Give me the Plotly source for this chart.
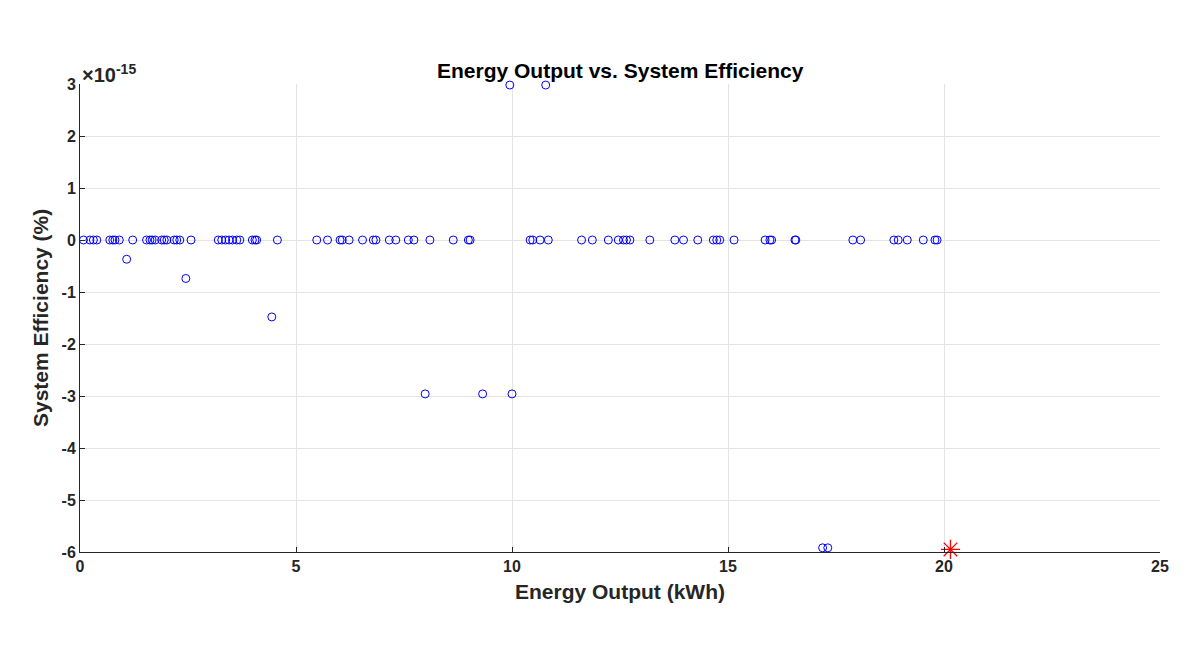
import plotly.graph_objects as go

# Energy output (kWh) and efficiency values (in units of 1e-15 %)
zero_x = [0.08, 0.23, 0.31, 0.39, 0.69, 0.76, 0.81, 0.91, 1.22, 1.54, 1.62, 1.67, 1.74,
          1.89, 1.95, 2.01, 2.18, 2.24, 2.31, 2.57, 3.20, 3.28, 3.37, 3.45, 3.53, 3.63,
          3.70, 3.99, 4.05, 4.09, 4.57, 5.48, 5.73, 6.02, 6.07, 6.23, 6.54, 6.79, 6.85,
          7.16, 7.31, 7.60, 7.73, 8.10, 8.64, 8.99, 9.03, 10.42, 10.48, 10.65, 10.84,
          11.61, 11.86, 12.23, 12.46, 12.58, 12.65, 12.73, 13.19, 13.77, 13.97, 14.30,
          14.66, 14.74, 14.81, 15.14, 15.86, 15.97, 16.01, 16.55, 16.57, 17.89, 18.07,
          18.84, 18.94, 19.15, 19.52, 19.79, 19.84]
other_x = [1.08, 2.45, 4.44, 7.99, 9.32, 10.00, 9.95, 10.78, 17.19, 17.31]
other_eff = [-0.37, -0.74, -1.48, -2.96, -2.96, -2.96, 2.98, 2.98, -5.92, -5.92]

energy = zero_x + other_x
efficiency_e15 = [0.0] * len(zero_x) + other_eff

best_energy = [20.15]
best_eff_e15 = [-5.95]

x_ticks = [0, 5, 10, 15, 20, 25]
y_ticks = [3, 2, 1, 0, -1, -2, -3, -4, -5, -6]
SCALE = 1e-15

FONT = "Liberation Sans, Arial, sans-serif"
DARK = "#262626"

fig = go.Figure()
fig.add_trace(go.Scatter(
    x=energy, y=[v * SCALE for v in efficiency_e15], mode="markers",
    marker=dict(symbol="circle-open", size=8, color="rgb(0,0,255)",
                line=dict(width=1, color="rgb(0,0,255)")),
    showlegend=False, cliponaxis=False))
fig.add_trace(go.Scatter(
    x=best_energy, y=[v * SCALE for v in best_eff_e15], mode="markers",
    marker=dict(symbol="asterisk-open", size=16, color="red",
                line=dict(width=1.3, color="red")),
    showlegend=False, cliponaxis=False))

tickfont = dict(family=FONT, size=16, color=DARK, weight="bold")
fig.update_xaxes(range=[0, 25], tickvals=x_ticks, ticktext=[str(t) for t in x_ticks],
                 showgrid=True, gridcolor="#e3e3e3", gridwidth=1,
                 showline=True, linecolor=DARK, linewidth=1,
                 ticks="inside", ticklen=5, tickcolor=DARK, tickfont=tickfont,
                 zeroline=False)
fig.update_yaxes(range=[-6 * SCALE, 3 * SCALE], tickvals=[t * SCALE for t in y_ticks],
                 ticktext=[str(t) for t in y_ticks],
                 showgrid=True, gridcolor="#e3e3e3", gridwidth=1,
                 showline=True, linecolor=DARK, linewidth=1,
                 ticks="inside", ticklen=5, tickcolor=DARK, tickfont=tickfont,
                 zeroline=False)

fig.update_layout(
    width=1201, height=651,
    margin=dict(l=72, r=49, t=76, b=107),
    plot_bgcolor="white", paper_bgcolor="white",
    annotations=[
        dict(text="Energy Output vs. System Efficiency", xref="paper", yref="paper",
             x=0.5, y=1, yanchor="middle", yshift=14, showarrow=False,
             font=dict(family=FONT, size=21, color="black", weight="bold")),
        dict(text="Energy Output (kWh)", xref="paper", yref="paper",
             x=0.5, y=0, yanchor="middle", yshift=-39, showarrow=False,
             font=dict(family=FONT, size=21, color=DARK, weight="bold")),
        dict(text="System Efficiency (%)", xref="paper", yref="paper",
             x=0, y=0.5, xanchor="center", xshift=-40, textangle=-90, showarrow=False,
             font=dict(family=FONT, size=21, color=DARK, weight="bold")),
        dict(text="\u00d710<sup>-15</sup>", xref="paper", yref="paper",
             x=0, y=1, xanchor="left", yanchor="bottom", xshift=0, yshift=-4,
             showarrow=False,
             font=dict(family=FONT, size=20, color=DARK, weight="bold")),
    ],
)

fig.write_html("out.html")
